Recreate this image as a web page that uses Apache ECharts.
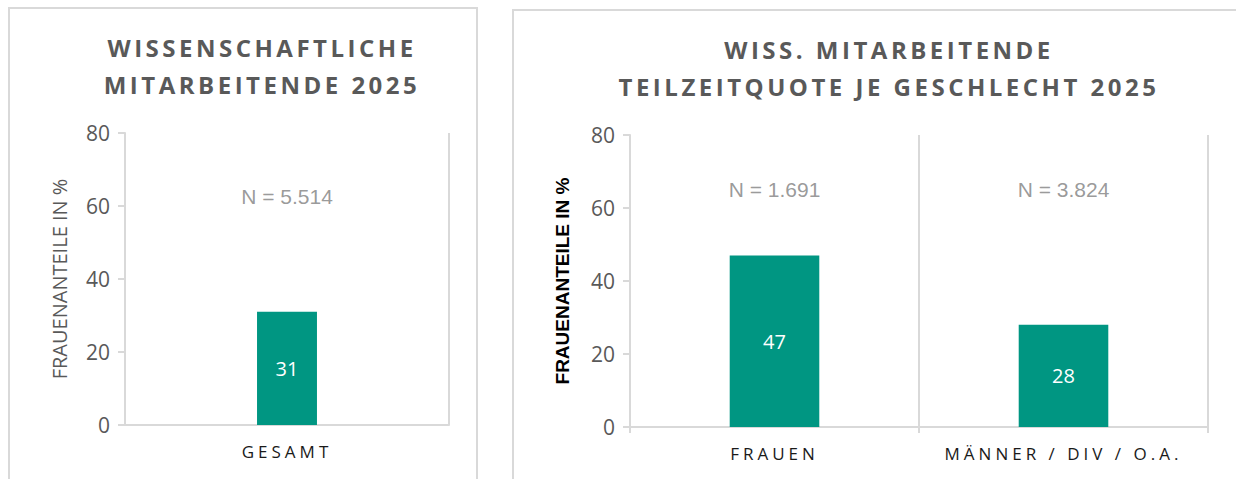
<!DOCTYPE html>
<html>
<head>
<meta charset="utf-8">
<script src="https://cdn.jsdelivr.net/npm/echarts@6/dist/echarts.min.js"></script>
<style>
  html, body { margin: 0; padding: 0; background: #fff; }
  #chart { width: 1236px; height: 479px; }
  /* Titel und Kategorien sind im Original gesperrt gesetzt */
  #chart text[style*="Lato"] { letter-spacing: 3.5px; }
  #chart text[style*="Roboto"] { letter-spacing: 4px; }
</style>
</head>
<body>
<div id="chart"></div>
<script>
// Daten aus der Vorlage
const titleLeft = 'WISSENSCHAFTLICHE\nMITARBEITENDE 2025'
const titleRight = 'WISS. MITARBEITENDE\nTEILZEITQUOTE JE GESCHLECHT 2025'
const axisName = 'FRAUENANTEILE IN %'

const categoriesLeft = ['GESAMT']
const valuesLeft = [31]
const countsLeft = ['5.514']

const categoriesRight = ['FRAUEN', 'MÄNNER / DIV / O.A.']
const valuesRight = [47, 28]
const countsRight = ['1.691', '3.824']

const yTicks = [0, 20, 40, 60, 80]

const GREEN = '#009682'
const LINE = '#d9d9d9'
const GREY_TEXT = '#595959'

const chart = echarts.init(document.getElementById('chart'), null, { renderer: 'svg' })

function xAxisFor(gridIndex, data, showTicks) {
  return {
    type: 'category',
    gridIndex,
    data,
    axisLine: { lineStyle: { color: LINE, width: 2 } },
    axisTick: { show: showTicks, length: 6, lineStyle: { color: LINE, width: 2 } },
    splitLine: { show: true, lineStyle: { color: LINE, width: 2 } },
    axisLabel: {
      color: '#1a1a1a',
      fontSize: 17,
      fontFamily: "'Open Sans', Roboto",
      margin: 18
    }
  }
}

function yAxisFor(gridIndex, nameStyle, nameGap) {
  return {
    type: 'value',
    gridIndex,
    min: yTicks[0],
    max: yTicks[yTicks.length - 1],
    interval: 20,
    name: axisName,
    nameLocation: 'middle',
    nameGap,
    nameTextStyle: nameStyle,
    axisLine: { show: true, lineStyle: { color: LINE, width: 2 } },
    axisTick: { show: true, length: 7, lineStyle: { color: LINE, width: 2 } },
    splitLine: { show: false },
    axisLabel: {
      color: GREY_TEXT,
      fontSize: 21,
      fontFamily: "'Open Sans', sans-serif",
      margin: 15
    }
  }
}

function barSeries(index, values, width) {
  return {
    type: 'bar',
    xAxisIndex: index,
    yAxisIndex: index,
    data: values,
    barWidth: width,
    itemStyle: { color: GREEN },
    label: {
      show: true,
      position: 'inside',
      color: '#fff',
      fontSize: 20,
      fontFamily: "'Open Sans', sans-serif"
    },
    silent: true
  }
}

function countSeries(index, counts, level) {
  return {
    type: 'scatter',
    xAxisIndex: index,
    yAxisIndex: index,
    symbolSize: 1,
    itemStyle: { color: 'rgba(0,0,0,0)' },
    data: counts.map((n) => ({ value: level, n })),
    label: {
      show: true,
      position: 'inside',
      formatter: (p) => `N = ${p.data.n}`,
      color: '#7f7f7f',
      fontSize: 21,
      fontFamily: "'Liberation Sans', Arial, sans-serif"
    },
    silent: true
  }
}

const titleStyle = {
  color: GREY_TEXT,
  fontSize: 24,
  fontWeight: 'bold',
  fontFamily: "'Open Sans', Lato",
  lineHeight: 37
}

chart.setOption({
  animation: false,
  backgroundColor: '#fff',
  title: [
    { text: titleLeft, left: 257, top: 24, textAlign: 'center', textStyle: titleStyle },
    { text: titleRight, left: 884, top: 26, textAlign: 'center', textStyle: titleStyle }
  ],
  graphic: [
    { type: 'rect', shape: { x: 9, y: 8, width: 468, height: 520 }, style: { fill: 'none', stroke: LINE, lineWidth: 2 }, silent: true },
    { type: 'rect', shape: { x: 513, y: 10, width: 900, height: 520 }, style: { fill: 'none', stroke: LINE, lineWidth: 2 }, silent: true }
  ],
  grid: [
    { left: 125, right: 1236 - 449, top: 133, bottom: 479 - 425, outerBoundsMode: 'none' },
    { left: 630, right: 1236 - 1208, top: 135, bottom: 479 - 427, outerBoundsMode: 'none' }
  ],
  xAxis: [
    xAxisFor(0, categoriesLeft, false),
    xAxisFor(1, categoriesRight, true)
  ],
  yAxis: [
    yAxisFor(0, { color: GREY_TEXT, fontSize: 20, fontFamily: "'Open Sans', sans-serif" }, 56),
    yAxisFor(1, { color: '#000', fontSize: 19, fontWeight: 'bold', fontFamily: "'Liberation Sans', Arial, sans-serif" }, 58)
  ],
  series: [
    barSeries(0, valuesLeft, '18.5%'),
    barSeries(1, valuesRight, '31%'),
    countSeries(0, countsLeft, 62.5),
    countSeries(1, countsRight, 65)
  ]
})
</script>
</body>
</html>
